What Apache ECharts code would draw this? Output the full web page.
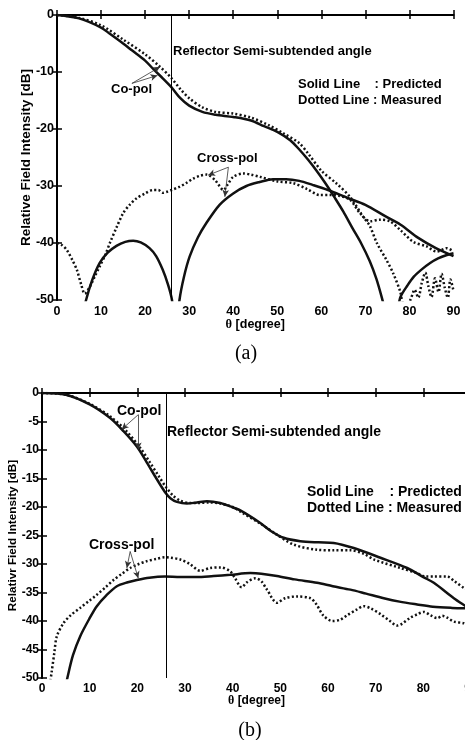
<!DOCTYPE html>
<html>
<head>
<meta charset="utf-8">
<script src="https://cdn.jsdelivr.net/npm/echarts@6/dist/echarts.min.js"></script>
<style>
  html, body { margin: 0; padding: 0; background: #fff; }
  #chart { width: 465px; height: 740px; }
</style>
</head>
<body>
<div id="chart"></div>
<script>
// (a) angle [deg], relative level [dB]
const aCoPred = [[0,0],[5,-0.6],[10,-2.2],[12,-3.3],[15,-5],[17,-6.2],[20,-8],[22,-9.6],[24,-11.1],[26,-12.7],[28,-14.6],[30,-15.9],[33,-17],[36,-17.5],[40,-17.9],[44,-18.5],[47,-19.5],[50,-20.5],[53,-22],[55,-23.6],[57,-25.4],[59,-27.4],[61,-29.6],[63,-32],[65,-34.5],[67,-37.3],[69,-40],[71,-43.2],[72.5,-46.3],[73.7,-49.5],[74.5,-52],[76,-58],[77.5,-51],[78,-49.4],[79.5,-47.5],[81,-45.9],[83,-44.5],[84.7,-43.5],[86.5,-42.7],[88.5,-42.1],[90,-41.8]];
const aCoMeas = [[0,0],[5,-0.5],[10,-1.8],[15,-4.3],[20,-6.9],[23.4,-9.1],[26,-11.1],[28,-13],[30,-14.6],[33,-16.2],[36,-17],[40,-17.3],[44,-18],[48,-19.3],[51.5,-20.8],[55,-22.5],[57,-24.3],[60,-27.3],[63.5,-29.6],[66.5,-31.9],[69.5,-35.4],[71,-37],[72.6,-40],[74.8,-43],[76.3,-45.3],[77.9,-48.5],[78.5,-50.5],[79.5,-51],[80.3,-49.8],[81.2,-48.2],[82,-49.6],[82.8,-47],[83.6,-45.2],[84.3,-47.6],[85,-49.5],[85.8,-46.2],[86.6,-48.6],[87.3,-45.4],[88,-47.8],[88.7,-49.6],[89.3,-46.4],[90,-48.4]];
const aXPred = [[5.8,-53],[6.6,-50],[8,-46.5],[9.7,-43.5],[11.5,-41.7],[13.5,-40.5],[15.5,-39.8],[17.3,-39.6],[19,-39.9],[21,-40.9],[22.5,-42.3],[24,-44.7],[25.2,-47.3],[26.1,-50],[26.6,-54],[27.4,-54],[27.8,-50],[28.8,-46],[30.1,-42.4],[32,-39],[33.9,-36.5],[36.9,-33.3],[40,-31.3],[43,-30],[46,-29.3],[49,-28.8],[52,-28.8],[55,-29.1],[58,-29.8],[61.5,-30.7],[66,-32.1],[70,-33.3],[74.5,-35.3],[78,-36.8],[82,-39.1],[86,-40.9],[90,-42.3]];
const aXMeas = [[0,-40],[1,-40.3],[2.2,-41.2],[3.5,-43],[4.5,-44.7],[5.5,-47.3],[6.3,-48.9],[7.5,-47.6],[8.5,-46],[9.7,-44.1],[11,-42],[12,-40],[13.5,-37.3],[15,-34.8],[16.5,-33.3],[18,-32.2],[20,-31.3],[21.8,-30.7],[23,-30.7],[24,-31.2],[25,-31],[26,-30.7],[27.9,-30.1],[29.3,-29.5],[30.9,-28.7],[32.5,-28.2],[34,-28],[35.9,-29],[37.8,-30.7],[38.7,-29.8],[40,-28.4],[42.3,-27.8],[44,-28],[46.1,-28.4],[50,-29.2],[53.6,-29.5],[56.7,-30.5],[59.7,-31.6],[62,-31.6],[64,-31.7],[66.5,-32.4],[68.8,-34.8],[71.1,-36.2],[73.3,-35.9],[75.6,-36.2],[77.9,-37.7],[80.9,-39.8],[83.9,-40.6],[86.2,-41.5],[88.5,-40.9],[90,-41.5]];

// (b)
const bCoPred = [[0,0],[5,-0.3],[10,-2],[14.3,-4.4],[17.1,-6.7],[19.9,-9.4],[22,-12.2],[24,-15],[25.9,-17.5],[27,-18.5],[28.3,-19.1],[30.4,-19.4],[32.5,-19.2],[34.6,-19],[37.4,-19.3],[39.5,-19.9],[41.6,-20.6],[45.8,-22.8],[48,-24.2],[50.7,-25.4],[54.2,-26],[58,-26.2],[61.2,-26.3],[65.4,-27.2],[71,-28.9],[76.6,-30.7],[80,-32.3],[82.2,-33.3],[86.4,-36],[88.9,-37.4],[90,-38]];
const bCoMeas = [[0,0],[5,-0.3],[10,-1.9],[14.3,-4.1],[17.5,-6.5],[20.5,-9.5],[22.5,-12],[24.5,-14.6],[26,-16.5],[27.5,-18],[29,-18.9],[31,-19.3],[33,-19.3],[35,-19.2],[37.4,-19.4],[40,-20],[42,-21],[46,-23],[49,-24.7],[52.8,-26.6],[57.7,-27.5],[61.2,-27.6],[64.7,-27.6],[67.5,-28.2],[69.6,-29.2],[75.2,-30.7],[78.7,-31.6],[80.5,-32.2],[82.2,-32.2],[85,-32.2],[86.5,-33],[88.5,-34.2],[90,-34.8]];
const bXPred = [[4,-55],[5.4,-49.7],[6.5,-46],[8,-42.7],[10,-39.5],[11.5,-37.4],[13.5,-35.5],[15.7,-33.9],[18,-33.2],[19.9,-32.8],[22.5,-32.4],[25.8,-32.2],[29,-32.3],[32.5,-32.3],[36,-32.1],[39.5,-31.9],[43.7,-31.6],[46,-31.7],[49.3,-32.1],[53,-32.7],[57.7,-33.3],[61,-33.9],[64.7,-34.5],[68,-35.2],[71.7,-36],[75,-36.6],[78.7,-37.1],[82,-37.5],[86,-37.7],[90,-37.8]];
const bXMeas = [[1.5,-52],[2,-49.1],[2.6,-45.5],[3.1,-42.7],[4.5,-40.4],[6,-39],[8,-37.7],[10,-36.4],[11.5,-35.4],[13.3,-34.1],[15,-32.8],[16.8,-31.7],[18.5,-30.7],[20,-30.1],[22,-29.5],[24,-29.1],[25.8,-28.8],[27,-28.9],[29,-29.2],[31,-30],[33.2,-31.2],[35.3,-30.7],[37.5,-30.6],[39.5,-31.3],[40.5,-32.5],[41.9,-34.1],[43,-33.2],[44.8,-32.5],[46,-33],[47.2,-34.5],[49.3,-36.8],[51,-36],[53.5,-35.7],[56.3,-36],[57.5,-37],[59,-39],[60.9,-40],[62.5,-39.8],[64,-39],[66,-38],[67.5,-37.4],[69,-37.8],[71,-38.8],[73,-40],[74.5,-40.8],[75.5,-40.5],[77.3,-39.4],[78.8,-38.8],[80.1,-38.4],[81.5,-39],[82.9,-39.5],[84,-39.1],[85,-39.4],[86.4,-40.1],[88.5,-40.4],[90,-41]];

const reflectorAngle = 26;
const aArrows = [[[17,-12],[23.4,-9.1]],[[17,-12],[22.8,-10.6]],[[38.9,-26.7],[34.3,-28.1]],[[38.9,-26.7],[38.1,-31.9]]];
const bArrows = [[[20.2,-3.8],[16.7,-6.4]],[[20.2,-3.8],[20.2,-9.9]],[[18.5,-27.8],[17.8,-30.7]],[[18.5,-27.8],[20.2,-32.5]]];

const SANS = '"Liberation Sans", Arial, sans-serif';
const SERIF = '"Liberation Serif", "Times New Roman", serif';

const chart = echarts.init(document.getElementById('chart'), null, { renderer: 'canvas' });

function mainX(grid, fs, gap) {
  return {
    type: 'value', gridIndex: grid, min: 0, max: 90, interval: 10,
    name: '{t|θ} [degree]', nameLocation: 'middle', nameGap: gap, nameMoveOverlap: false,
    nameTextStyle: { color: '#000', fontFamily: SANS, fontWeight: 'bold', fontSize: fs,
      rich: { t: { fontFamily: SERIF, fontSize: fs, color: '#000' } } },
    axisLine: { lineStyle: { color: '#000', width: 2 } },
    axisTick: { inside: true, length: 5, lineStyle: { color: '#000', width: 1.5 } },
    axisLabel: { color: '#000', fontFamily: SANS, fontWeight: 'bold', fontSize: fs, margin: 5 },
    splitLine: { show: false }
  };
}
function mirrorX(grid) {
  return {
    type: 'value', gridIndex: grid, min: 0, max: 90, interval: 10, position: 'top',
    axisLine: { lineStyle: { color: '#000', width: 1.5 } },
    axisTick: { inside: true, length: 4, lineStyle: { color: '#000', width: 1.5 } },
    axisLabel: { show: false }, splitLine: { show: false }
  };
}
function mainY(grid, step, fs, name, nfs, gap) {
  return {
    type: 'value', gridIndex: grid, min: -50, max: 0, interval: step,
    name: name, nameLocation: 'middle', nameGap: gap, nameRotate: 90, nameMoveOverlap: false,
    nameTextStyle: { color: '#000', fontFamily: SANS, fontWeight: 'bold', fontSize: nfs },
    axisLine: { lineStyle: { color: '#000', width: 2 } },
    axisTick: { inside: true, length: 5, lineStyle: { color: '#000', width: 1.5 } },
    axisLabel: { color: '#000', fontFamily: SANS, fontWeight: 'bold', fontSize: fs, margin: 3 },
    splitLine: { show: false }
  };
}
function mirrorY(grid, step) {
  return {
    type: 'value', gridIndex: grid, min: -50, max: 0, interval: step, position: 'right',
    axisLine: { lineStyle: { color: '#000', width: 1.5 } },
    axisTick: { inside: true, length: 4, lineStyle: { color: '#000', width: 1.5 } },
    axisLabel: { show: false }, splitLine: { show: false }
  };
}

const solid = { color: '#111', width: 2.5 };
const dotted = { color: '#111', width: 2.5, type: [2, 2.3] };

function line(data, xi, yi, style, extra) {
  return Object.assign({
    type: 'line', xAxisIndex: xi, yAxisIndex: yi, data: data,
    showSymbol: false, smooth: 0.3, clip: true, lineStyle: style, silent: true
  }, extra || {});
}
function arrowMark(list) {
  return {
    silent: true, symbol: ['none', 'arrow'], symbolSize: [5, 7],
    label: { show: false },
    lineStyle: { color: '#333', width: 0.8, type: 'solid' },
    data: list.map(p => [{ coord: p[0] }, { coord: p[1] }])
  };
}
function vMark() {
  return {
    silent: true, symbol: ['none', 'none'], label: { show: false },
    lineStyle: { color: '#000', width: 1, type: 'solid' },
    data: [{ xAxis: reflectorAngle }]
  };
}

function txt(text, x, y, fs, family, weight, align) {
  return { type: 'text', x: x, y: y, silent: true,
    style: { text: text, fill: '#000', font: (weight || 'bold') + ' ' + fs + 'px ' + (family || SANS),
      textAlign: align || 'left', textVerticalAlign: 'middle', align: align || 'left', verticalAlign: 'middle' } };
}

chart.setOption({
  animation: false,
  backgroundColor: '#fff',
  grid: [
    { left: 57, top: 15, width: 396.5, height: 285, outerBoundsMode: 'none', containLabel: false },
    { left: 42, top: 393, width: 429, height: 285, outerBoundsMode: 'none', containLabel: false }
  ],
  xAxis: [mainX(0, 12.5, 18), mirrorX(0), mainX(1, 12, 17), mirrorX(1)],
  yAxis: [
    mainY(0, 10, 12.5, 'Relative Field Intensity [dB]', 13.5, 24),
    mirrorY(0, 10),
    mainY(1, 5, 12, 'Relativr Field Intensity [dB]', 11.7, 23.5),
    mirrorY(1, 5)
  ],
  series: [
    line(aCoPred, 0, 0, solid, { markLine: vMark() }),
    line(aCoMeas, 0, 0, dotted),
    line(aXPred, 0, 0, solid, { markLine: arrowMark(aArrows) }),
    line(aXMeas, 0, 0, dotted),
    line(bCoPred, 2, 2, solid, { markLine: vMark() }),
    line(bCoMeas, 2, 2, dotted),
    line(bXPred, 2, 2, solid, { markLine: arrowMark(bArrows) }),
    line(bXMeas, 2, 2, dotted)
  ],
  graphic: [
    txt('Reflector Semi-subtended angle', 173, 51, 13),
    txt('Co-pol', 111, 89, 13),
    txt('Solid Line    : Predicted', 298, 84, 13),
    txt('Dotted Line : Measured', 298, 100, 13),
    txt('Cross-pol', 197, 158, 13),
    txt('(a)', 246, 354, 20, SERIF, 'normal', 'center'),
    txt('Reflector Semi-subtended angle', 167, 432, 14),
    txt('Co-pol', 117, 411, 14),
    txt('Solid Line    : Predicted', 307, 492, 14),
    txt('Dotted Line : Measured', 307, 508, 14),
    txt('Cross-pol', 89, 545, 14),
    txt('(b)', 250, 731, 20, SERIF, 'normal', 'center')
  ]
});
</script>
</body>
</html>
